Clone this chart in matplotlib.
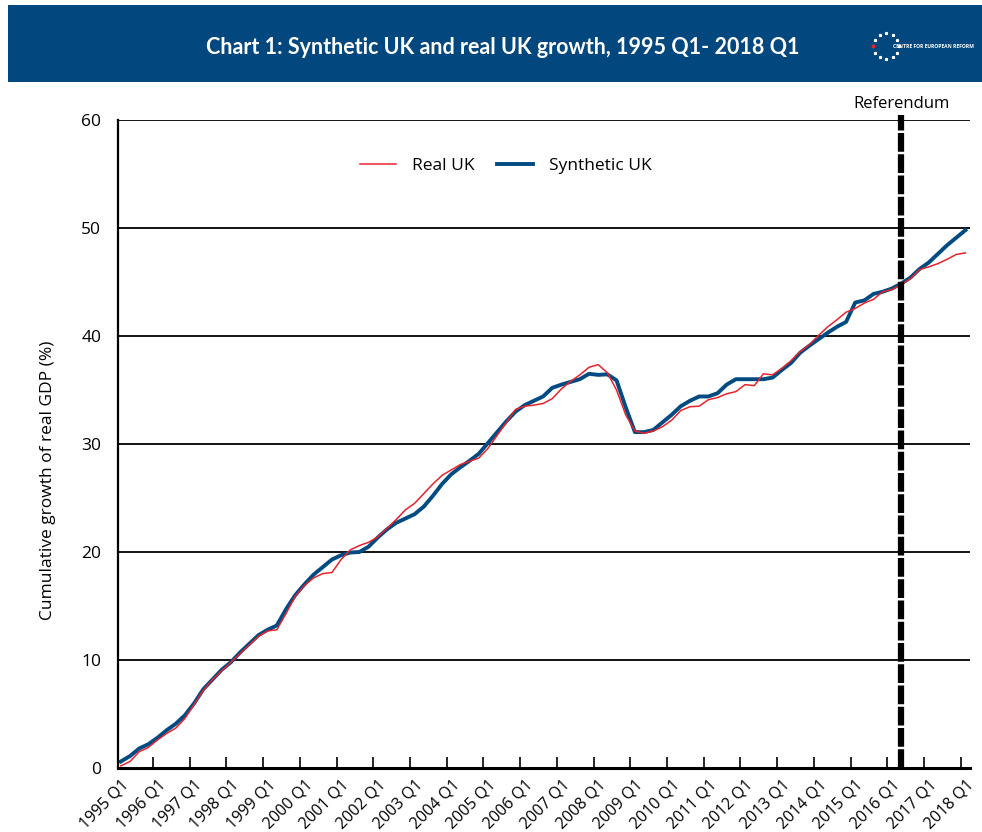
"""
Chart 1: Synthetic UK and real UK growth, 1995 Q1 - 2018 Q1
"""

import numpy as np
import matplotlib
matplotlib.use("Agg")
import matplotlib.pyplot as plt
from matplotlib.patches import Rectangle

# Data (cumulative growth of real GDP, %)
YEARS = list(range(1995, 2019))
QUARTER_LABELS = [f"{y} Q{q}" for y in YEARS for q in range(1, 5)][:93]

real_uk = [
    0.2, 0.6, 1.5, 1.9, 2.6, 3.2, 3.7, 4.6, 5.9, 7.2, 8.2, 9.0,
    9.8, 10.6, 11.4, 12.2, 12.7, 12.8, 14.3, 15.9, 16.9, 17.6, 18.0, 18.1,
    19.3, 20.2, 20.6, 20.9, 21.4, 22.2, 23.0, 23.9, 24.5, 25.4, 26.3, 27.1,
    27.6, 28.1, 28.4, 28.7, 29.6, 30.8, 32.0, 33.2, 33.5, 33.6,
    33.75, 34.2, 35.1, 35.8, 36.4, 37.1, 37.35, 36.6, 35.0, 32.7, 31.2, 31.0,
    31.2, 31.6, 32.2, 33.1, 33.45, 33.5, 34.1, 34.3, 34.65, 34.85, 35.5, 35.4,
    36.5, 36.4, 37.0, 37.7, 38.55, 39.2, 40.05, 40.85, 41.5, 42.2, 42.55, 43.05,
    43.4, 44.1, 44.3, 44.75, 45.3, 46.15, 46.4, 46.7, 47.1, 47.55, 47.7,
]

synthetic_uk = [
    0.6, 1.1, 1.8, 2.2, 2.8, 3.5, 4.1, 4.9, 6.0, 7.3, 8.2, 9.1,
    9.8, 10.7, 11.5, 12.3, 12.8, 13.2, 14.7, 16.0, 17.0, 17.9, 18.6, 19.3,
    19.7, 19.95, 20.0, 20.5, 21.35, 22.1, 22.7, 23.1, 23.5, 24.2, 25.2, 26.3,
    27.2, 27.85, 28.45, 29.1, 30.1, 31.1, 32.1, 33.0, 33.6, 34.0,
    34.4, 35.2, 35.5, 35.75, 36.0, 36.5, 36.4, 36.45, 35.9, 33.4, 31.1, 31.1,
    31.3, 32.0, 32.7, 33.5, 34.0, 34.4, 34.4, 34.7, 35.5, 36.0, 36.0, 36.0,
    36.0, 36.15, 36.85, 37.5, 38.45, 39.1, 39.7, 40.3, 40.85, 41.3, 43.1, 43.3,
    43.9, 44.1, 44.4, 44.85, 45.4, 46.2, 46.8, 47.6, 48.4, 49.1, 49.8,
]

REFERENDUM = "2016 Q2"

# Style
RED = "#e8232b"
BLUE = "#004b82"
HEADER = "#03477f"
FONT = ["Open Sans", "DejaVu Sans"]
W, H, DPI = 982, 832, 100

plt.rcParams["font.family"] = FONT

fig = plt.figure(figsize=(W / DPI, H / DPI), dpi=DPI)
fig.patch.set_facecolor("white")

# Header band
fig.patches.append(Rectangle((8 / W, 1 - 82 / H), 1 - 8 / W, 77 / H,
                             transform=fig.transFigure, facecolor=HEADER,
                             edgecolor="none", zorder=0))
fig.text(503 / W, 1 - 47 / H,
         "Chart 1: Synthetic UK and real UK growth, 1995 Q1- 2018 Q1",
         color="white", fontsize=15.5, fontweight="bold",
         ha="center", va="center", family=["Lato", "DejaVu Sans"])

# Little CER logo: ring of stars plus name
cx, cy, r = 886 / W, 1 - 46 / H, 13
ang = np.linspace(0, 2 * np.pi, 12, endpoint=False)
fig.add_artist(plt.Line2D(cx + r * np.cos(ang) / W, cy + r * np.sin(ang) / H,
                          linestyle="none", marker="*", markersize=2.0,
                          color="white", transform=fig.transFigure))
fig.add_artist(plt.Line2D([cx - r / W], [cy], linestyle="none", marker="*",
                          markersize=2.2, color=RED, transform=fig.transFigure))
fig.text(893 / W, cy, "CENTRE FOR EUROPEAN REFORM", color="white",
         fontsize=3.6, fontweight="bold", ha="left", va="center")

# Main axes
ax = fig.add_axes([118 / W, 1 - 768 / H, 852 / W, 648 / H])
x = np.arange(len(real_uk))

ax.plot(x, real_uk, color=RED, lw=1.1, label="Real UK", zorder=3)
ax.plot(x, synthetic_uk, color=BLUE, lw=2.8, label="Synthetic UK", zorder=2)

ref_x = QUARTER_LABELS.index(REFERENDUM)
ax.plot([ref_x, ref_x], [0, 60.5], color="black", lw=4.5,
        dashes=(3.0, 0.4), clip_on=False, zorder=4, solid_capstyle="butt")
ax.text(ref_x, 60.75, "Referendum", ha="center", va="bottom", fontsize=12)

ax.set_xlim(-0.3, 92.5)
ax.set_ylim(0, 60)
ax.set_yticks(range(0, 61, 10))
ax.yaxis.grid(True, color="black", lw=1.3)
ax.set_axisbelow(True)
ax.tick_params(axis="y", length=0, labelsize=12.5, pad=12)

ax.set_xticks(x[::4])
ax.set_xticklabels(QUARTER_LABELS[::4], rotation=45, ha="right",
                   rotation_mode="anchor", fontsize=11.5)
ax.set_xticks(np.arange(3.5, 92, 4), minor=True)
ax.tick_params(axis="x", which="major", length=0, pad=6)
ax.tick_params(axis="x", which="minor", direction="in", length=8, width=1.2)

for side in ["top", "right"]:
    ax.spines[side].set_visible(False)
ax.spines["left"].set_linewidth(1.6)
ax.spines["bottom"].set_linewidth(2.2)

fig.text(48 / W, 1 - 480 / H, "Cumulative growth of real GDP (%)",
         rotation=90, ha="center", va="center", fontsize=12.5)

ax.legend(loc="upper center", bbox_to_anchor=(0.455, 0.965), ncol=2,
          frameon=False, fontsize=12.5, handlelength=2.1, columnspacing=1.3,
          handletextpad=0.9)

fig.savefig("out.png", dpi=DPI, facecolor="white")
